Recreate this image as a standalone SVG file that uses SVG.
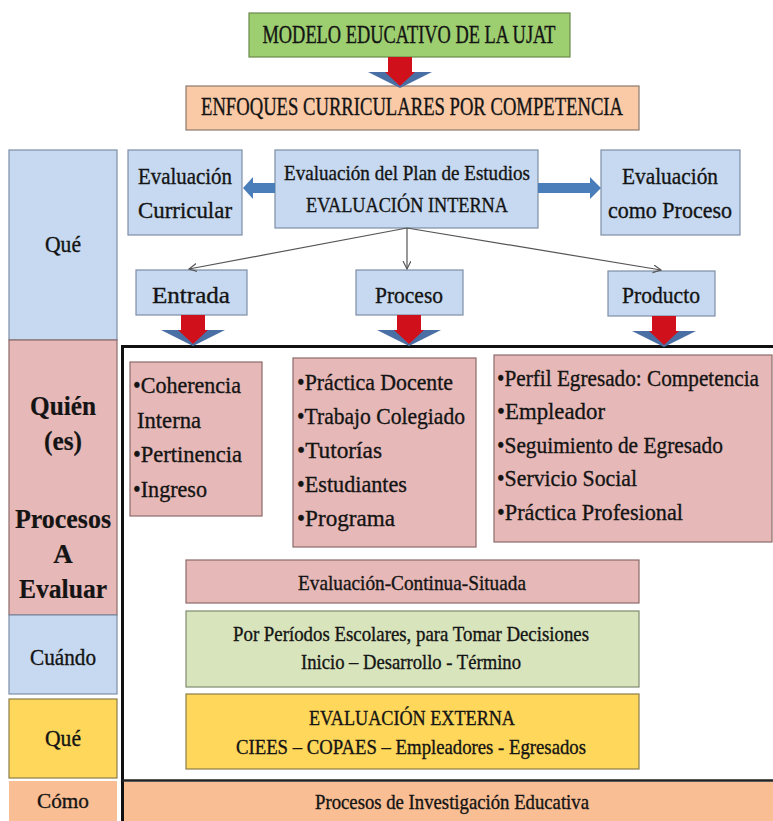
<svg xmlns="http://www.w3.org/2000/svg" width="773" height="821" viewBox="0 0 773 821">
<style>
.t{font-family:"Liberation Serif","Times New Roman",serif;fill:#141414;stroke:#141414;stroke-width:0.35;}
.c{text-anchor:middle;}
.b{font-weight:bold;stroke-width:0.2;}
.box{stroke-width:1.2;}
.green{fill:#9DCE6F;stroke:#6a8a4a;}
.peach{fill:#FAC9A6;stroke:#8c7a6e;}
.blue{fill:#C6D9F0;stroke:#7d8ea6;}
.pink{fill:#E6B8B7;stroke:#8c6a6a;}
.lgreen{fill:#D8E4BC;stroke:#7f8a70;}
.yellow{fill:#FFD75A;stroke:#8c7d4a;}
.orange{fill:#F9BE93;stroke:none;}
.conn{stroke:#555;stroke-width:1.2;fill:none;}
.barrow{fill:#4A7EBB;}
</style>
<defs>
<marker id="open" markerWidth="10" markerHeight="10" refX="8" refY="4" orient="auto" markerUnits="userSpaceOnUse">
<path d="M0,0 L8,4 L0,8" fill="none" stroke="#555" stroke-width="1.2"/>
</marker>
<g id="darrow">
<polygon points="-32,15 32,15 0,31" fill="#4A6FA5"/>
<polygon points="-12,0 12,0 12,15 15,15 0,29 -15,15 -12,15" fill="#D0101A"/>
</g>
</defs>

<g id="modelo">
<rect class="box green" x="249" y="13" width="321" height="44"/>
<text class="t c" x="409" y="43" font-size="25" textLength="293" lengthAdjust="spacingAndGlyphs">MODELO EDUCATIVO DE LA UJAT</text>
</g>
<g id="enfoques">
<rect class="box peach" x="186" y="86" width="453" height="44"/>
<text class="t c" x="412" y="115" font-size="25" textLength="422" lengthAdjust="spacingAndGlyphs">ENFOQUES CURRICULARES POR COMPETENCIA</text>
</g>

<g id="col-que">
<rect class="box blue" x="9" y="150" width="108" height="190"/>
<text class="t c" x="63" y="252" font-size="23" textLength="36" lengthAdjust="spacingAndGlyphs">Qué</text>
</g>
<g id="col-quien">
<rect class="box pink" x="9" y="340" width="108" height="275"/>
<text class="t c b" x="63" y="415" font-size="27" textLength="66" lengthAdjust="spacingAndGlyphs">Quién</text>
<text class="t c b" x="63" y="450" font-size="27" textLength="38" lengthAdjust="spacingAndGlyphs">(es)</text>
<text class="t c b" x="63" y="528" font-size="27" textLength="96" lengthAdjust="spacingAndGlyphs">Procesos</text>
<text class="t c b" x="63" y="563" font-size="27">A</text>
<text class="t c b" x="63" y="598" font-size="27" textLength="88" lengthAdjust="spacingAndGlyphs">Evaluar</text>
</g>
<g id="col-cuando">
<rect class="box blue" x="9" y="615" width="108" height="79"/>
<text class="t c" x="63" y="665" font-size="23" textLength="66" lengthAdjust="spacingAndGlyphs">Cuándo</text>
</g>
<g id="col-que2">
<rect class="box yellow" x="9" y="699" width="108" height="79"/>
<text class="t c" x="63" y="746" font-size="23" textLength="36" lengthAdjust="spacingAndGlyphs">Qué</text>
</g>
<g id="col-como">
<rect class="orange" x="9" y="781" width="108" height="40"/>
<text class="t c" x="63" y="808" font-size="22" textLength="52" lengthAdjust="spacingAndGlyphs">Cómo</text>
</g>

<g id="eval-curricular">
<rect class="box blue" x="128" y="150" width="114" height="85"/>
<text class="t c" x="185" y="184" font-size="24" textLength="94" lengthAdjust="spacingAndGlyphs">Evaluación</text>
<text class="t c" x="185" y="218" font-size="24" textLength="94" lengthAdjust="spacingAndGlyphs">Curricular</text>
</g>
<g id="eval-interna">
<rect class="box blue" x="275" y="150" width="263" height="78"/>
<text class="t c" x="407" y="180" font-size="21" textLength="246" lengthAdjust="spacingAndGlyphs">Evaluación del Plan de Estudios</text>
<text class="t c" x="407" y="212" font-size="22" textLength="202" lengthAdjust="spacingAndGlyphs">EVALUACIÓN INTERNA</text>
</g>
<g id="eval-proceso">
<rect class="box blue" x="601" y="150" width="139" height="85"/>
<text class="t c" x="670" y="184" font-size="24" textLength="96" lengthAdjust="spacingAndGlyphs">Evaluación</text>
<text class="t c" x="670" y="218" font-size="24" textLength="124" lengthAdjust="spacingAndGlyphs">como Proceso</text>
</g>
<g id="entrada">
<rect class="box blue" x="136" y="270" width="111" height="45"/>
<text class="t c" x="191" y="303" font-size="24" textLength="78" lengthAdjust="spacingAndGlyphs">Entrada</text>
</g>
<g id="proceso">
<rect class="box blue" x="356" y="270" width="107" height="45"/>
<text class="t c" x="409" y="303" font-size="24" textLength="68" lengthAdjust="spacingAndGlyphs">Proceso</text>
</g>
<g id="producto">
<rect class="box blue" x="608" y="271" width="107" height="45"/>
<text class="t c" x="661" y="303" font-size="24" textLength="78" lengthAdjust="spacingAndGlyphs">Producto</text>
</g>

<g id="frame">
<path d="M122.5,821 V346.5 H773" fill="none" stroke="#111" stroke-width="3"/>
<line x1="122" y1="780.5" x2="773" y2="780.5" stroke="#222" stroke-width="2.5"/>
</g>

<g id="entrada-items">
<rect class="box pink" x="130" y="362" width="132" height="154"/>
<text class="t" x="133" y="393" font-size="24" textLength="108" lengthAdjust="spacingAndGlyphs">•Coherencia</text>
<text class="t" x="137" y="428" font-size="24" textLength="64" lengthAdjust="spacingAndGlyphs">Interna</text>
<text class="t" x="133" y="462" font-size="24" textLength="109" lengthAdjust="spacingAndGlyphs">•Pertinencia</text>
<text class="t" x="133" y="497" font-size="24" textLength="74" lengthAdjust="spacingAndGlyphs">•Ingreso</text>
</g>
<g id="proceso-items">
<rect class="box pink" x="293" y="358" width="183" height="189"/>
<text class="t" x="297" y="390" font-size="24" textLength="156" lengthAdjust="spacingAndGlyphs">•Práctica Docente</text>
<text class="t" x="297" y="424" font-size="24" textLength="168" lengthAdjust="spacingAndGlyphs">•Trabajo Colegiado</text>
<text class="t" x="297" y="458" font-size="24" textLength="85" lengthAdjust="spacingAndGlyphs">•Tutorías</text>
<text class="t" x="297" y="492" font-size="24" textLength="110" lengthAdjust="spacingAndGlyphs">•Estudiantes</text>
<text class="t" x="297" y="526" font-size="24" textLength="98" lengthAdjust="spacingAndGlyphs">•Programa</text>
</g>
<g id="producto-items">
<rect class="box pink" x="494" y="355" width="278" height="187"/>
<text class="t" x="497" y="386" font-size="24" textLength="262" lengthAdjust="spacingAndGlyphs">•Perfil Egresado: Competencia</text>
<text class="t" x="497" y="419" font-size="24" textLength="108" lengthAdjust="spacingAndGlyphs">•Empleador</text>
<text class="t" x="497" y="453" font-size="24" textLength="226" lengthAdjust="spacingAndGlyphs">•Seguimiento de Egresado</text>
<text class="t" x="497" y="486" font-size="24" textLength="140" lengthAdjust="spacingAndGlyphs">•Servicio Social</text>
<text class="t" x="497" y="520" font-size="24" textLength="186" lengthAdjust="spacingAndGlyphs">•Práctica Profesional</text>
</g>

<g id="continua">
<rect class="box pink" x="186" y="560" width="453" height="43"/>
<text class="t c" x="412" y="590" font-size="21" textLength="228" lengthAdjust="spacingAndGlyphs">Evaluación-Continua-Situada</text>
</g>
<g id="periodos">
<rect class="box lgreen" x="186" y="611" width="453" height="76"/>
<text class="t c" x="411" y="641" font-size="21" textLength="356" lengthAdjust="spacingAndGlyphs">Por Períodos Escolares, para Tomar Decisiones</text>
<text class="t c" x="411" y="669" font-size="21" textLength="220" lengthAdjust="spacingAndGlyphs">Inicio – Desarrollo - Término</text>
</g>
<g id="externa">
<rect class="box yellow" x="186" y="694" width="453" height="75"/>
<text class="t c" x="412" y="725" font-size="22" textLength="206" lengthAdjust="spacingAndGlyphs">EVALUACIÓN EXTERNA</text>
<text class="t c" x="411" y="754" font-size="21" textLength="350" lengthAdjust="spacingAndGlyphs">CIEES – COPAES – Empleadores - Egresados</text>
</g>
<g id="investigacion">
<rect class="orange" x="124" y="782" width="649" height="39"/>
<text class="t c" x="452" y="809" font-size="21" textLength="274" lengthAdjust="spacingAndGlyphs">Procesos de Investigación Educativa</text>
</g>

<g id="connectors">
<use href="#darrow" x="400" y="57"/>
<use href="#darrow" x="193" y="315"/>
<use href="#darrow" x="409" y="315"/>
<use href="#darrow" x="664" y="316"/>
<polygon class="barrow" points="275,183 253,183 253,177 243,188 253,199 253,193 275,193"/>
<polygon class="barrow" points="538,183 590,183 590,177 601,188 590,199 590,193 538,193"/>
<line class="conn" x1="407" y1="228" x2="189" y2="269" marker-end="url(#open)"/>
<line class="conn" x1="407" y1="228" x2="407" y2="269" marker-end="url(#open)"/>
<line class="conn" x1="407" y1="228" x2="661" y2="270" marker-end="url(#open)"/>
</g>
</svg>
